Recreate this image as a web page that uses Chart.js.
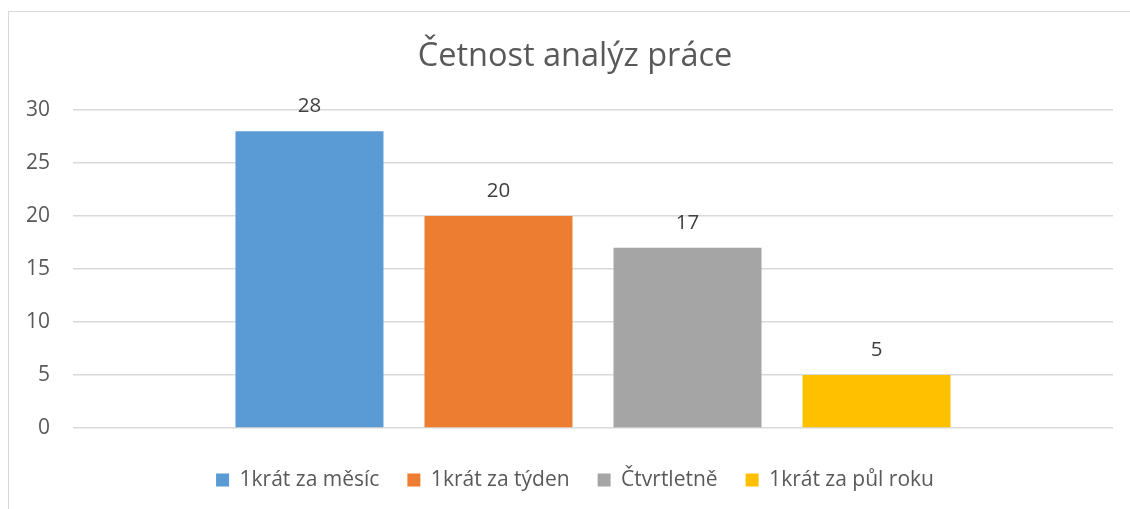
<!DOCTYPE html>
<html lang="cs">
<head>
<meta charset="utf-8">
<title>Četnost analýz práce</title>
<script src="https://cdn.jsdelivr.net/npm/chart.js@4.4.1/dist/chart.umd.min.js"></script>
<style>
    html, body { margin: 0; padding: 0; background: #ffffff; overflow: hidden; }
    #frame {
        position: absolute;
        left: 8px;
        top: 11px;
        width: 1140px;
        height: 520px;
        border: 1px solid #d9d9d9;
    }
    #wrap { position: absolute; left: 0; top: 0; width: 1130px; height: 509px; }
</style>
</head>
<body>
<div id="frame"></div>
<div id="wrap"><canvas id="chart"></canvas></div>
<script>
const chartTitle = 'Četnost analýz práce';
const categories = [''];
const seriesNames = ['1krát za měsíc', '1krát za týden', 'Čtvrtletně', '1krát za půl roku'];
const seriesValues = [28, 20, 17, 5];
const seriesColors = ['#5b9bd5', '#ed7d31', '#a5a5a5', '#ffc000'];
const yTicks = [0, 5, 10, 15, 20, 25, 30];

const fontFamily = '"Open Sans", sans-serif';
const textColor = '#595959';

// draws the value above each bar, like Excel data labels
const valueLabels = {
    id: 'valueLabels',
    afterDatasetsDraw(chart) {
        const { ctx } = chart;
        ctx.save();
        ctx.font = `20.5px ${fontFamily}`;
        ctx.fillStyle = '#404040';
        ctx.textAlign = 'center';
        ctx.textBaseline = 'middle';
        chart.data.datasets.forEach((dataset, i) => {
            chart.getDatasetMeta(i).data.forEach((bar, j) => {
                ctx.fillText(String(dataset.data[j]), bar.x, bar.y - 25);
            });
        });
        ctx.restore();
    },
};

const datasets = seriesNames.map((name, i) => ({
    label: name,
    data: [seriesValues[i]],
    backgroundColor: seriesColors[i],
    borderWidth: 0,
    categoryPercentage: 0.727,
    barPercentage: 0.783,
}));

new Chart(document.getElementById('chart'), {
    type: 'bar',
    data: { labels: categories, datasets },
    plugins: [valueLabels],
    options: {
        responsive: true,
        maintainAspectRatio: false,
        animation: false,
        // left padding keeps the title and legend centred a bit right of the canvas middle, as in Excel
        layout: { padding: { left: 37, right: 17, top: 0, bottom: 8.5 } },
        plugins: {
            title: {
                display: true,
                text: chartTitle,
                color: textColor,
                font: { family: fontFamily, size: 32.5, weight: 'normal' },
                padding: { top: 37.5, bottom: 33.5 },
            },
            legend: {
                position: 'bottom',
                labels: {
                    color: textColor,
                    font: { family: fontFamily, size: 21 },
                    boxWidth: 13,
                    boxHeight: 13,
                    padding: 28,
                },
            },
            tooltip: { enabled: false },
        },
        scales: {
            x: {
                ticks: { display: false },
                grid: { display: false, drawTicks: false },
                border: { display: false },
                afterFit: (scale) => { scale.height = 13.5; },
            },
            y: {
                min: 0,
                max: 30,
                afterBuildTicks: (scale) => { scale.ticks = yTicks.map((v) => ({ value: v })); },
                afterFit: (scale) => { scale.width = 36; },
                // mirrored so the labels are not clipped to the narrow axis box;
                // negative padding puts them back left of the plot area
                ticks: {
                    color: textColor,
                    font: { family: fontFamily, size: 21 },
                    mirror: true,
                    crossAlign: 'far',
                    padding: -47,
                },
                grid: { color: '#d9d9d9', lineWidth: 1.5, drawTicks: false },
                border: { display: false },
            },
        },
    },
});
</script>
</body>
</html>
